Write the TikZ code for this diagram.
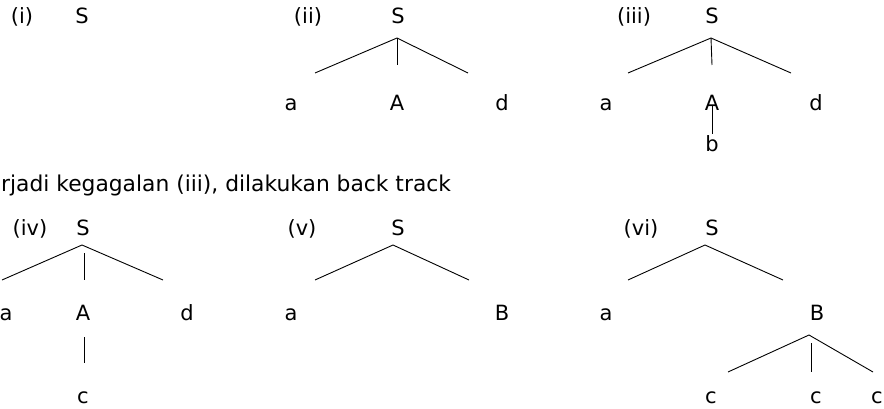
\documentclass[tikz,border=0pt]{standalone}
\usepackage{fontspec}
\setmainfont{DejaVu Sans}
\begin{document}
\begin{tikzpicture}[x=1pt, y=-1pt,
	every node/.style={inner sep=0pt, anchor=base, font=\fontsize{21}{25}\selectfont},
	ast/.style={line width=0.9pt}]
		%Rahmen
		\useasboundingbox (0,0) rectangle (884,409);
		
		%(i)
		\node (l1) at (22,24) {(i)};
		\node (s1) at (82,24) {S};
		
		%(ii)
		\node (l2) at (308,24) {(ii)};
		\node (s2) at (398,24) {S};
		\node (a2) at (291,111) {a};
		\node (A2) at (397,111) {A};
		\node (d2) at (502,111) {d};
		\coordinate (p2) at (397,38);
		\coordinate (pa2) at (315,73);
		\coordinate (pm2) at (397,65);
		\coordinate (pd2) at (468,73);
		\draw[ast] (pa2) -- (p2) -- (pd2);
		\draw[ast] (p2) -- (pm2);
		
		%(iii)
		\node (l3) at (634,24) {(iii)};
		\node (s3) at (712,24) {S};
		\node (a3) at (606,111) {a};
		\node (A3) at (712,111) {A};
		\node (d3) at (816,111) {d};
		\node (b3) at (712,152) {b};
		\coordinate (p3) at (711,38);
		\coordinate (pa3) at (628,73);
		\coordinate (pm3) at (712,65);
		\coordinate (pd3) at (791,73);
		\draw[ast] (pa3) -- (p3) -- (pd3);
		\draw[ast] (p3) -- (pm3);
		\draw[ast] (b3.north) ++(0,-2) -- ([yshift=-11pt]A3.north);
		
		%Zwischentext
		\node[anchor=base west, font=\fontsize{21.8}{26}\selectfont] (ket) at (1,191) {rjadi kegagalan (iii), dilakukan back track};
		
		%(iv)
		\node (l4) at (30,236) {(iv)};
		\node (s4) at (83,236) {S};
		\node (a4) at (6,320) {a};
		\node (A4) at (83,320) {A};
		\node (d4) at (187,320) {d};
		\node (c4) at (83,403) {c};
		\coordinate (p4) at (82,245);
		\coordinate (pa4) at (2,280);
		\coordinate (pt4) at (84,253);
		\coordinate (pm4) at (84,280);
		\coordinate (pd4) at (163,280);
		\coordinate (q4) at (84,337);
		\coordinate (qc4) at (84,363);
		\draw[ast] (pa4) -- (p4) -- (pd4);
		\draw[ast] (pt4) -- (pm4);
		\draw[ast] (q4) -- (qc4);
		
		%(v)
		\node (l5) at (302,236) {(v)};
		\node (s5) at (398,236) {S};
		\node (a5) at (291,320) {a};
		\node (B5) at (502,320) {B};
		\coordinate (p5) at (393,245);
		\coordinate (pa5) at (315,280);
		\coordinate (pb5) at (469,280);
		\draw[ast] (pa5) -- (p5) -- (pb5);
		
		%(vi)
		\node (l6) at (641,236) {(vi)};
		\node (s6) at (712,236) {S};
		\node (a6) at (606,320) {a};
		\node (B6) at (817,320) {B};
		\node (c6a) at (711,403) {c};
		\node (c6b) at (816,403) {c};
		\node (c6c) at (877,403) {c};
		\coordinate (p6) at (705,245);
		\coordinate (pa6) at (628,280);
		\coordinate (pb6) at (783,280);
		\draw[ast] (pa6) -- (p6) -- (pb6);
		\coordinate (q6) at (809,335);
		\coordinate (qa6) at (728,372);
		\coordinate (qt6) at (811,343);
		\coordinate (qb6) at (811,372);
		\coordinate (qc6) at (873,372);
		\draw[ast] (qa6) -- (q6) -- (qc6);
		\draw[ast] (qt6) -- (qb6);
		
\end{tikzpicture}
\end{document}
